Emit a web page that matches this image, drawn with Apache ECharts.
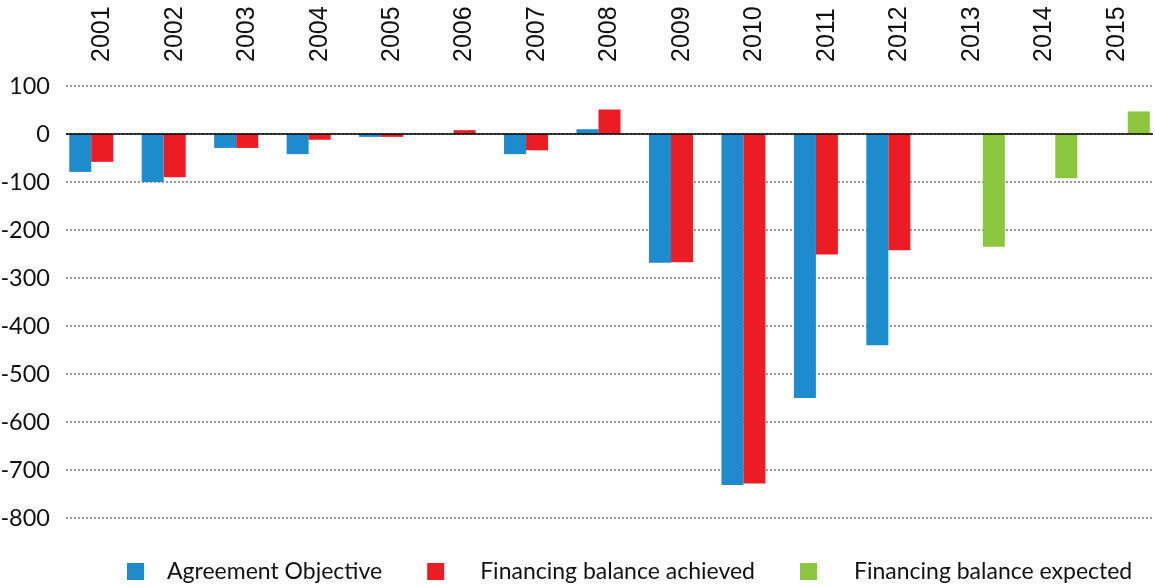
<!DOCTYPE html>
<html lang="en">
    <head>
        <meta charset="UTF-8"/>
        <script src="https://cdn.jsdelivr.net/npm/echarts@6/dist/echarts.min.js"></script>
        <title>Financing balance</title>
        <style>
            html, body { margin: 0; padding: 0; background: #fff; }
        </style>
    </head>
    <body>
        <div id="main" style="width: 1155px;height:587px;"></div>
        <script type="text/javascript">

            // data
            var years = ['2001', '2002', '2003', '2004', '2005', '2006', '2007', '2008',
                         '2009', '2010', '2011', '2012', '2013', '2014', '2015'];
            var objective = [-79, -100, -29, -42, -6, 0, -42, 10, -268, -731, -550, -440, null, null, null];
            var achieved  = [-58, -90, -29, -12, -6, 8, -34, 51, -267, -728, -251, -242, null, null, null];
            var expected  = [null, null, null, null, null, null, null, null, null, null, null, null, -235, -92, 47];
            var seriesNames = ['Agreement Objective', 'Financing balance achieved', 'Financing balance expected'];
            // gap between legend square and its text
            var legendTextGap = [18, 31, 32];

            var myChart = echarts.init(document.getElementById('main'));

            option = {
                backgroundColor: '#fff',
                animation: false,
                color: ['#1e8bcd', '#ec1c24', '#8cc63f'],

                grid: {
                    left: 66,
                    right: 2,
                    top: 86,
                    bottom: 69,
                    containLabel: false,
                    outerBoundsMode: 'none'
                },

                legend: {
                    left: 127,
                    top: 560,
                    padding: 0,
                    icon: 'rect',
                    itemWidth: 17,
                    itemHeight: 17,
                    itemGap: 45,
                    textStyle: {
                        fontFamily: 'Lato',
                        fontSize: 23,
                        color: '#111'
                    },
                    data: seriesNames.map(function (n, i) {
                        return {name: n, textStyle: {padding: [0, 0, 0, legendTextGap[i]]}};
                    })
                },

                xAxis: {
                    type: 'category',
                    position: 'top',
                    data: years,
                    axisLine: {show: false},
                    axisTick: {show: false},
                    axisLabel: {
                        rotate: 90,
                        margin: 24,
                        fontFamily: 'Liberation Sans',
                        fontSize: 25,
                        color: '#111',
                        padding: [0, 0, 10, 0]
                    }
                },

                yAxis: {
                    type: 'value',
                    min: -800,
                    max: 100,
                    interval: 100,
                    axisLine: {show: false},
                    axisTick: {show: false},
                    axisLabel: {
                        margin: 16,
                        fontFamily: 'Lato',
                        fontSize: 23.5,
                        color: '#111'
                    },
                    splitLine: {
                        lineStyle: {
                            color: '#999',
                            type: [2, 2],
                            width: 2
                        }
                    }
                },

                series: [
                    {
                        name: seriesNames[0],
                        type: 'bar',
                        barWidth: 22,
                        barGap: '0%',
                        data: objective,
                        markLine: {
                            silent: true,
                            symbol: ['none', 'none'],
                            label: {show: false},
                            lineStyle: {color: '#000', type: 'solid', width: 1.5},
                            data: [{yAxis: 0}]
                        }
                    },
                    {
                        name: seriesNames[1],
                        type: 'bar',
                        barWidth: 22,
                        barGap: '0%',
                        data: achieved
                    },
                    {
                        name: seriesNames[2],
                        type: 'bar',
                        barWidth: 22,
                        barGap: '0%',
                        data: expected
                    }
                ]
            };

            myChart.setOption(option);

        </script>
    </body>
</html>
